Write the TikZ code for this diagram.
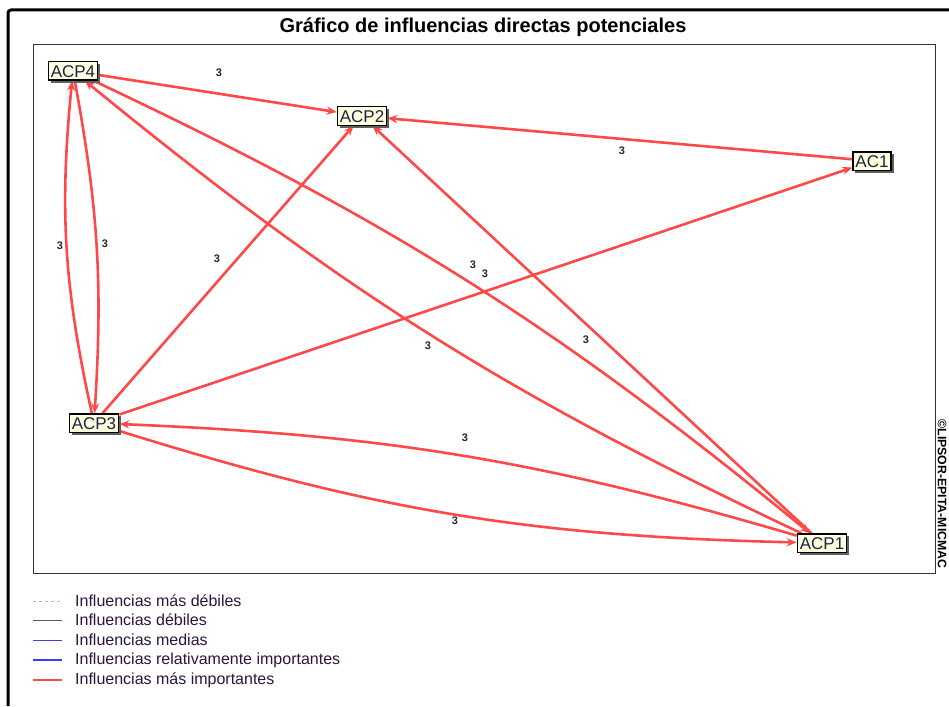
\documentclass[tikz,border=0pt]{standalone}
\usepackage{fontspec}
\setmainfont{Liberation Sans}
\usetikzlibrary{arrows.meta,shadows}
\definecolor{edgered}{RGB}{255,72,72}
\definecolor{nodefill}{RGB}{255,255,222}
\definecolor{nodetext}{RGB}{25,35,70}
\definecolor{legtext}{RGB}{45,20,60}
\definecolor{medblue}{RGB}{60,60,255}
\begin{document}
\begin{tikzpicture}[x=1pt,y=-1pt,
  var/.style={draw=black, line width=1.2pt, fill=nodefill, text=nodetext,
    font=\fontsize{17}{17}\selectfont, inner xsep=2.5pt, inner ysep=3pt,
    text height=12.2pt, text depth=0pt,
    drop shadow={shadow xshift=2.5pt,shadow yshift=-2.5pt,fill=black!65,opacity=.8}},
  infl/.style={draw=edgered, line width=2.6pt, -{Stealth[length=10pt,width=8pt]}},
  wlabel/.style={font=\bfseries\fontsize{11}{11}\selectfont, text=black!85, inner sep=0pt},
  legtxt/.style={anchor=west, font=\fontsize{16}{16}\selectfont, text=legtext, inner sep=0pt}]
\useasboundingbox (0,0) rectangle (949,706);
% frames
\draw[line width=3pt, rounded corners=3pt] (8,706) -- (8,10) -- (949,10);
\draw[black!80, line width=1pt] (33,45) rectangle (935,573);
\node[font=\bfseries\fontsize{20}{20}\selectfont] (title) at (483,27) {Gráfico de influencias directas potenciales};
\node[rotate=-90, font=\bfseries\fontsize{12.3}{12.3}\selectfont] (copy) at (942,494) {©LIPSOR-EPITA-MICMAC};
% nodes
\node[var] (acp4) at (73,71) {ACP4};
\node[var] (acp2) at (362,116) {ACP2};
\node[var] (ac1) at (872,161) {AC1};
\node[var] (acp3) at (94,423) {ACP3};
\node[var] (acp1) at (822,543) {ACP1};
% edges
\draw[infl] (acp4) -- (acp2);
\draw[infl] (ac1) -- (acp2);
\draw[infl] (acp3) -- (acp2);
\draw[infl] (acp3) -- (ac1);
\draw[infl] (acp1) -- (acp2);
\draw[infl] (acp4) to[bend left=7] (acp1);
\draw[infl] (acp1) to[bend left=7] (acp4);
\draw[infl] (acp3) to[bend left=9] (acp4);
\draw[infl] (acp4) to[bend left=7] (acp3);
\draw[infl] (acp1) to[bend right=7] (acp3);
\draw[infl] (acp3) to[bend right=8] (acp1);
% redraw nodes on top
\node[var] at (acp4) {ACP4};
\node[var] at (acp2) {ACP2};
\node[var] at (ac1) {AC1};
\node[var] at (acp3) {ACP3};
\node[var] at (acp1) {ACP1};
% labels
\node[wlabel] (w1) at (219,73) {3};
\node[wlabel] (w2) at (622,151) {3};
\node[wlabel] (w3) at (217,259) {3};
\node[wlabel] (w4) at (473,265) {3};
\node[wlabel] (w5) at (485,274) {3};
\node[wlabel] (w6) at (428,346) {3};
\node[wlabel] (w7) at (586,340) {3};
\node[wlabel] (w8) at (60,246) {3};
\node[wlabel] (w9) at (105,244) {3};
\node[wlabel] (w10) at (465,438) {3};
\node[wlabel] (w11) at (455,521) {3};
% legend
\draw[gray!55, line width=1pt, dash pattern=on 2.5pt off 3.5pt] (33,601) -- (62,601);
\draw[black!65, line width=1pt] (33,620) -- (62,620);
\draw[medblue, line width=1pt] (33,640) -- (62,640);
\draw[medblue, line width=2.2pt] (33,660) -- (62,660);
\draw[edgered, line width=2.6pt] (33,680) -- (62,680);
\node[legtxt] (g1) at (75,601) {Influencias más débiles};
\node[legtxt] (g2) at (75,620) {Influencias débiles};
\node[legtxt] (g3) at (75,640) {Influencias medias};
\node[legtxt] (g4) at (75,660) {Influencias relativamente importantes};
\node[legtxt] (g5) at (75,680) {Influencias más importantes};
\end{tikzpicture}
\end{document}
